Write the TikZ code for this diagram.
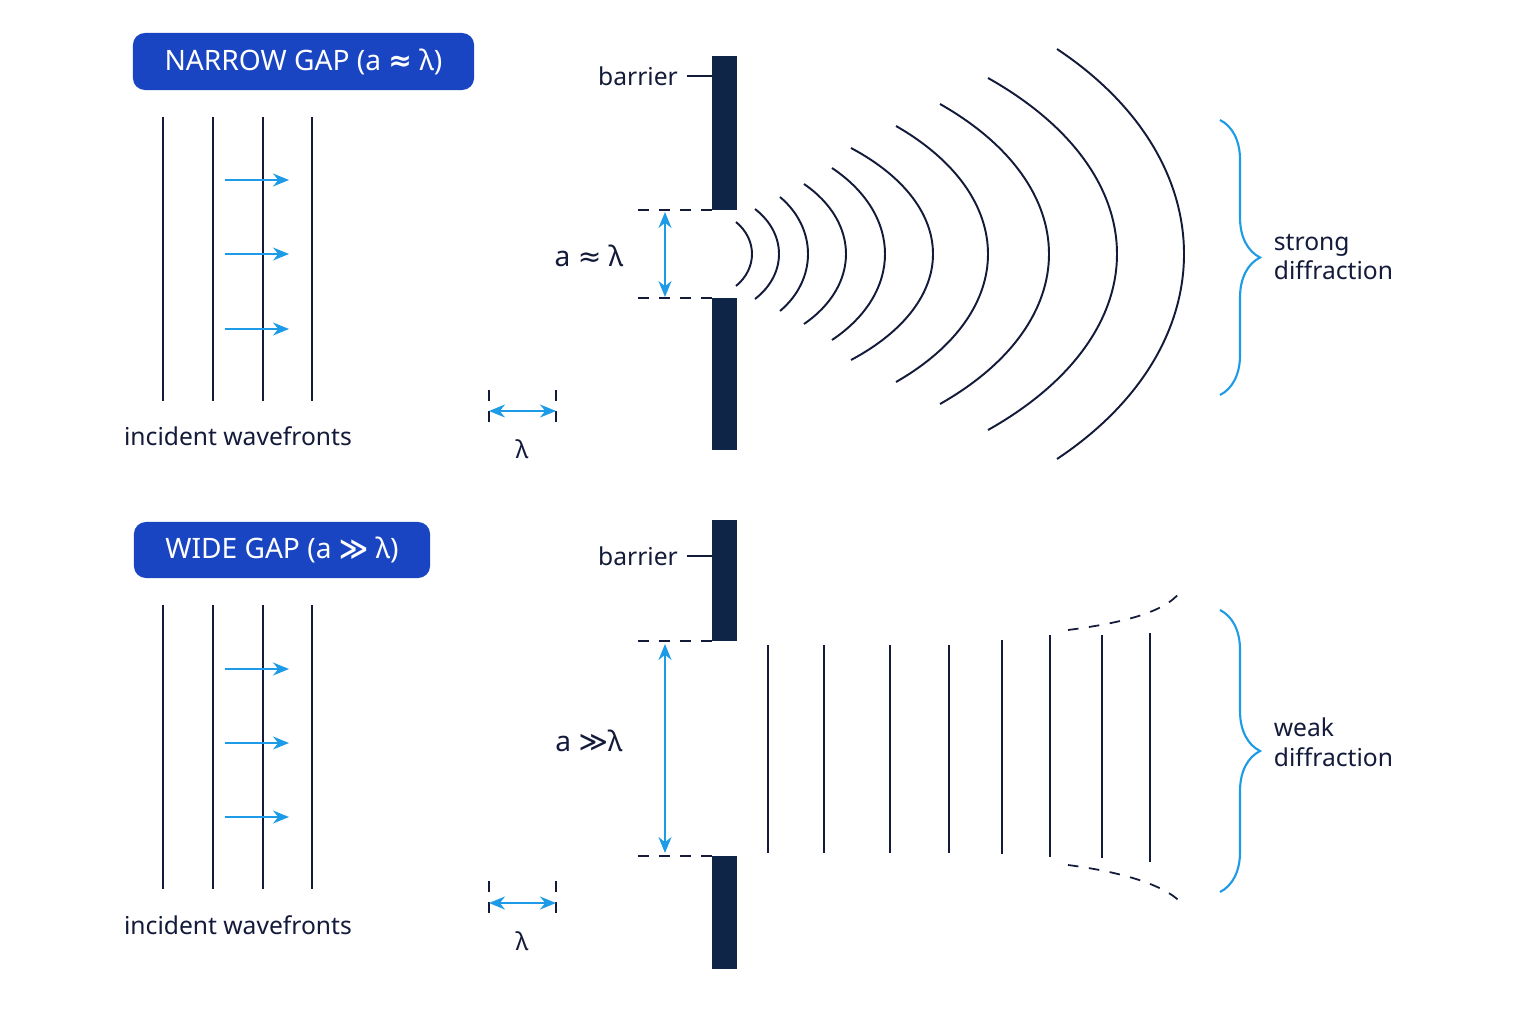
\documentclass[tikz,border=0pt]{standalone}
\usepackage{fontspec}
\setmainfont{Noto Sans}
\newfontfamily\symf{DejaVu Sans}
\usetikzlibrary{decorations.pathreplacing,arrows.meta}
\definecolor{navy}{HTML}{0F2547}
\definecolor{ink}{HTML}{141A3A}
\definecolor{titleblue}{HTML}{1A45C2}
\definecolor{skyblue}{HTML}{1E9BE6}
\begin{document}
\begin{tikzpicture}
[ x=0.01cm, y=-0.01cm, line width=0.5pt
, title/.style={rectangle, rounded corners=1.2mm, fill=titleblue, text=white, font=\fontsize{8}{9}\selectfont\bfseries, inner sep=0pt}
, label/.style={font=\fontsize{7}{8.5}\selectfont, text=ink, inner sep=0pt}
, wave/.style={ink, line width=0.55pt}
, flow/.style={skyblue, line width=0.5pt, -{Stealth[length=1.6mm,width=1.3mm]}}
, measure/.style={skyblue, line width=0.5pt, {Stealth[length=1.6mm,width=1.3mm]}-{Stealth[length=1.6mm,width=1.3mm]}}
, guide/.style={ink, dashed, line width=0.5pt}
, wall/.style={fill=navy, draw=none}
, bracket/.style={skyblue, line width=0.6pt, decorate, decoration={brace, amplitude=4mm}}
]
\useasboundingbox (0,0) rectangle (1536,1024);
\fill[white] (0,0) rectangle (1536,1024);
% Top panel: narrow gap
\node (ttop) [title, minimum width=3.41cm, minimum height=0.57cm] at (303.5,61.5) {NARROW GAP (a {\symf≈} λ)};
\foreach \x in {163,213,263,312} \draw[wave] (\x,117) -- (\x,401);
\foreach \y in {180,254,329} \draw[flow] (225,\y) -- (289,\y);
\node (inctop) [label] at (238,436) {incident wavefronts};
\draw[guide] (489,390) -- (489,426) (556,390) -- (556,426);
\coordinate (lt1) at (489,411); \coordinate (lt2) at (556,411);
\draw[measure] (lt1) -- (lt2);
\node (lamtop) [label] at (522,449) {λ};
\fill[wall] (712,56) rectangle (737,210);
\fill[wall] (712,298) rectangle (737,450);
\node (bartop) [label] at (638,76) {barrier};
\draw[ink] (bartop.east) ++(8,0) -- (712,76);
\draw[guide] (638,210) -- (712,210) (638,298) -- (712,298);
\coordinate (at1) at (665,212); \coordinate (at2) at (665,297);
\draw[measure] (at1) -- (at2);
\node (gaptop) [label, font=\fontsize{8}{9}\selectfont] at (589,256) {a {\symf≈} λ};
\foreach \e/\r/\h in {736/752/32,755/779/45,780/808/57,804/846/70,832/885/86,851/933/106,896/988/128,940/1049/150,988/1117/176,1057/1184/205}
  \draw[wave] (\e,254-\h) .. controls ({\r+(\r-\e)/3},254-0.45*\h) and ({\r+(\r-\e)/3},254+0.45*\h) .. (\e,254+\h);
\draw[bracket] (1220,120) -- (1220,395);
\node (strong) [label, align=left, anchor=west] at (1273,257) {strong\\diffraction};
% Bottom panel: wide gap
\node (tbot) [title, minimum width=2.96cm, minimum height=0.56cm] at (282,550) {WIDE GAP (a {\symf≫} λ)};
\foreach \x in {163,213,263,312} \draw[wave] (\x,605) -- (\x,889);
\foreach \y in {669,743,817} \draw[flow] (225,\y) -- (289,\y);
\node (incbot) [label] at (238,925) {incident wavefronts};
\draw[guide] (489,881) -- (489,916) (556,881) -- (556,916);
\coordinate (lb1) at (489,903); \coordinate (lb2) at (556,903);
\draw[measure] (lb1) -- (lb2);
\node (lambot) [label] at (522,941) {λ};
\fill[wall] (712,520) rectangle (737,641);
\fill[wall] (712,856) rectangle (737,969);
\node (barbot) [label] at (638,556) {barrier};
\draw[ink] (barbot.east) ++(8,0) -- (712,556);
\draw[guide] (638,641) -- (712,641) (638,856) -- (712,856);
\coordinate (ab1) at (665,644); \coordinate (ab2) at (665,853);
\draw[measure] (ab1) -- (ab2);
\node (gapbot) [label, font=\fontsize{8}{9}\selectfont] at (589,741) {a {\symf≫}λ};
\foreach \x/\a/\b in {768/645/853,824/645/853,890/645/853,949/645/853,1002/640/854,1050/635/857,1102/635/858,1150/633/862}
  \draw[wave] (\x,\a) -- (\x,\b);
\draw[guide] (1068,630) .. controls (1130,622) and (1170,610) .. (1183,588);
\draw[guide] (1068,865) .. controls (1130,873) and (1170,888) .. (1183,905);
\draw[bracket] (1220,610) -- (1220,892);
\node (weak) [label, align=left, anchor=west] at (1273,742) {weak\\diffraction};
\end{tikzpicture}
\end{document}
